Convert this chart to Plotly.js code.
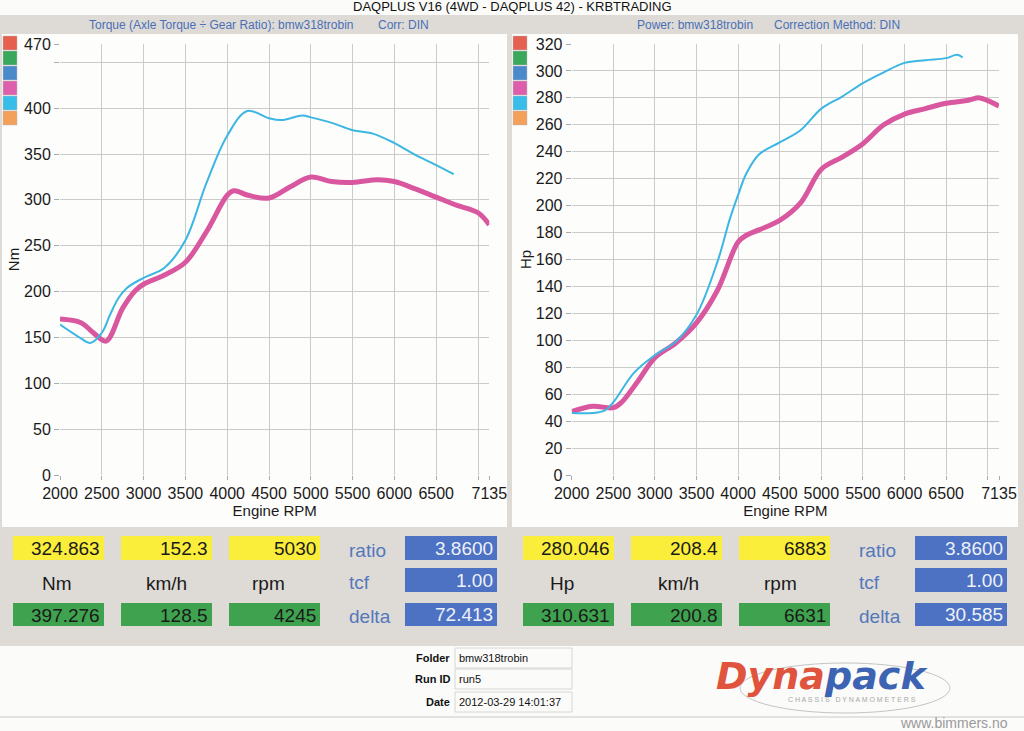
<!DOCTYPE html>
<html>
<head>
<meta charset="utf-8">
<script src="https://cdn.plot.ly/plotly-3.0.1.min.js"></script>
<style>
  html, body { margin: 0; padding: 0; background: #dedbd7; }
  #chart { width: 1024px; height: 731px; }
</style>
</head>
<body>
<div id="chart"></div>
<script>
// page is 1024x731, helpers turn pixel positions into paper coords
const W = 1024, H = 731;
const X = p => p / W;
const Y = p => 1 - p / H;

// torque curves (Nm) - pink is the current run, cyan the compare run
const torqueRpmPink = [2000, 2250, 2400, 2550, 2750, 2900, 3000, 3250, 3500, 3750, 4000, 4080, 4250, 4500, 4750, 5000, 5250, 5500, 5800, 6000, 6250, 6500, 6750, 7000, 7135];
const torquePink    = [170, 166, 155, 146, 182, 201, 208, 218, 232, 265, 305, 310, 305, 302, 314, 325, 320, 319, 322, 320, 312, 303, 294, 286, 273];
const torqueRpmCyan = [2000, 2250, 2360, 2500, 2600, 2700, 2800, 3000, 3250, 3500, 3750, 4000, 4240, 4500, 4650, 4900, 5000, 5250, 5500, 5750, 6000, 6250, 6500, 6710];
const torqueCyan    = [164, 149, 144, 155, 175, 193, 204, 215, 226, 256, 318, 370, 397, 389, 387, 392, 390, 384, 376, 372, 362, 349, 338, 328];

// power curves (Hp)
const powerRpmPink = [2000, 2250, 2500, 2600, 2800, 3000, 3250, 3500, 3750, 4000, 4100, 4250, 4500, 4750, 5000, 5250, 5500, 5750, 6000, 6250, 6500, 6750, 6900, 7000, 7135];
const powerPink    = [47, 51, 50, 54, 70, 87, 98, 113, 137, 173, 178, 182, 189, 202, 227, 236, 246, 260, 268, 272, 276, 278, 280, 278, 274];
const powerRpmCyan = [2000, 2250, 2400, 2500, 2750, 3000, 3250, 3500, 3750, 3900, 4000, 4100, 4250, 4500, 4750, 5000, 5250, 5500, 5750, 6000, 6250, 6500, 6630, 6700];
const powerCyan    = [46, 46, 48, 54, 76, 89, 99, 119, 158, 190, 208, 224, 238, 247, 256, 272, 281, 291, 299, 306, 308, 309.5, 312, 310];

// ticks
const rpmTicks  = [2000, 2500, 3000, 3500, 4000, 4500, 5000, 5500, 6000, 6500, 7000, 7135];
const rpmLabels = ['2000', '2500', '3000', '3500', '4000', '4500', '5000', '5500', '6000', '6500', '', '7135'];
const nmTicks   = [0, 50, 100, 150, 200, 250, 300, 350, 400, 450, 470];
const nmLabels  = ['0', '50', '100', '150', '200', '250', '300', '350', '400', '', '470'];

// legend swatches
const swatchColors = ['#e5604e', '#3aa85a', '#4a8acb', '#dd5fab', '#38bce8', '#f3a05a'];

// readout panel values
const torqueTop    = ['324.863', '152.3', '5030'];
const torqueBottom = ['397.276', '128.5', '4245'];
const torqueUnits  = ['Nm', 'km/h', 'rpm'];
const torqueParams = ['3.8600', '1.00', '72.413'];
const powerTop     = ['280.046', '208.4', '6883'];
const powerBottom  = ['310.631', '200.8', '6631'];
const powerUnits   = ['Hp', 'km/h', 'rpm'];
const powerParams  = ['3.8600', '1.00', '30.585'];
const paramNames   = ['ratio', 'tcf', 'delta'];

const footerLabels = ['Folder', 'Run ID', 'Date'];
const footerValues = ['bmw318trobin', 'run5', '2012-03-29 14:01:37'];

const PINK = '#d9579f', CYAN = '#3cb6e2';
const FONT = 'Liberation Sans, Arial, sans-serif';

const traces = [
  { x: torqueRpmPink, y: torquePink, xaxis: 'x', yaxis: 'y', mode: 'lines',
    line: { color: PINK, width: 5, shape: 'spline', smoothing: 1 } },
  { x: torqueRpmCyan, y: torqueCyan, xaxis: 'x', yaxis: 'y', mode: 'lines',
    line: { color: CYAN, width: 2, shape: 'spline', smoothing: 1 } },
  { x: powerRpmPink, y: powerPink, xaxis: 'x2', yaxis: 'y2', mode: 'lines',
    line: { color: PINK, width: 5, shape: 'spline', smoothing: 1 } },
  { x: powerRpmCyan, y: powerCyan, xaxis: 'x2', yaxis: 'y2', mode: 'lines',
    line: { color: CYAN, width: 2, shape: 'spline', smoothing: 1 } }
];

function rpmAxis(x0, x1, anchor) {
  return {
    domain: [X(x0), X(x1)], range: [2000, 7135], anchor: anchor,
    tickvals: rpmTicks, ticktext: rpmLabels,
    showgrid: true, gridcolor: '#cbcbcb', gridwidth: 1,
    ticks: 'outside', ticklen: 4, tickcolor: '#aaa',
    zeroline: false, showline: false,
    tickfont: { family: FONT, size: 16, color: '#1a1a1a' },
    title: { text: 'Engine RPM', font: { family: FONT, size: 15, color: '#1a1a1a' }, standoff: 2 }
  };
}

function valueAxis(range, anchor, name) {
  return {
    domain: [Y(475), Y(44)], range: range, anchor: anchor,
    showgrid: true, gridcolor: '#cbcbcb', gridwidth: 1,
    ticks: 'outside', ticklen: 5, tickcolor: '#aaa',
    zeroline: false, showline: false,
    tickfont: { family: FONT, size: 16, color: '#1a1a1a' },
    title: { text: name, font: { family: FONT, size: 15, color: '#1a1a1a' }, standoff: 0 }
  };
}

const shapes = [];
const annotations = [];

function rect(x0, y0, x1, y1, fill, line) {
  shapes.push({ type: 'rect', xref: 'paper', yref: 'paper', layer: 'below',
    x0: X(x0), x1: X(x1), y0: Y(y1), y1: Y(y0),
    fillcolor: fill, line: line || { width: 0 } });
}

function text(str, x, y, size, color, anchor, extra) {
  annotations.push(Object.assign({ text: str, xref: 'paper', yref: 'paper',
    x: X(x), y: Y(y), xanchor: anchor || 'center', yanchor: 'middle', showarrow: false,
    font: { family: FONT, size: size, color: color } }, extra || {}));
}

// backgrounds
rect(0, 0, 1024, 15, '#fbfbfa');
rect(2, 34, 507, 527, '#fdfdfc');
rect(512, 34, 1018, 527, '#fdfdfc');
rect(0, 646, 1024, 731, '#fbfbfa');
shapes.push({ type: 'line', xref: 'paper', yref: 'paper', x0: 0, x1: 1, y0: Y(717), y1: Y(717),
  line: { color: '#c9c9c9', width: 1 } });

// swatches beside each chart
swatchColors.forEach((c, i) => {
  rect(3, 36 + i * 15, 17, 50 + i * 15, c, { color: '#bbb', width: 0.5 });
  rect(513, 36 + i * 15, 527, 50 + i * 15, c, { color: '#bbb', width: 0.5 });
});

// titles
text('DAQPLUS V16 (4WD - DAQPLUS 42) - KRBTRADING', 512, 7, 13, '#111');
text('Torque (Axle Torque \u00f7 Gear Ratio): bmw318trobin', 87, 25, 12, '#4a6fb5', 'left');
text('Corr: DIN', 376, 25, 12, '#4a6fb5', 'left');
text('Power: bmw318trobin', 635, 25, 12, '#4a6fb5', 'left');
text('Correction Method: DIN', 772, 25, 12, '#4a6fb5', 'left');

// readout panels
const boxX = [13, 121, 229];
function readout(off, top, bottom, units, unitX, params) {
  boxX.forEach((bx, i) => {
    rect(bx + off, 536, bx + off + 91, 560, '#fbee3a');
    rect(bx + off, 603, bx + off + 91, 626, '#3ea24f');
    text(top[i], bx + off + 89, 548, 19, '#1a1a1a', 'right');
    text(bottom[i], bx + off + 89, 615, 19, '#1a1a1a', 'right');
    text(units[i], unitX[i], 583, 19, '#1a1a1a');
  });
  const rowY = [[536, 560], [568, 592], [603, 626]];
  params.forEach((v, i) => {
    rect(405 + off, rowY[i][0], 497 + off, rowY[i][1], '#4d72c4');
    text(v, 495 + off, (rowY[i][0] + rowY[i][1]) / 2, 19, '#eef1f8', 'right');
    text(paramNames[i], 347 + off, (rowY[i][0] + rowY[i][1]) / 2 + 2, 19, '#5577bb', 'left');
  });
}
readout(0, torqueTop, torqueBottom, torqueUnits, [57, 166, 268], torqueParams);
readout(510, powerTop, powerBottom, powerUnits, [562, 678, 780], powerParams);

// footer info
const footY = [658, 679, 702];
footerLabels.forEach((lab, i) => {
  text('<b>' + lab + '</b>', 452, footY[i], 11, '#111', 'right');
  text(footerValues[i], 457, footY[i], 11, '#111', 'left');
  rect(455, footY[i] - 10, 572, footY[i] + 10, 'rgba(0,0,0,0)', { color: '#d6d6d6', width: 1 });
});

// logo
shapes.push({ type: 'circle', xref: 'paper', yref: 'paper', layer: 'below',
  x0: X(740), x1: X(950), y0: Y(713), y1: Y(663), line: { color: '#c4c4c4', width: 1 } });
text('<b><i><span style="color:#e0533d">Dyna</span><span style="color:#3d63b3">pack</span></i></b>',
  822, 676, 38, '#e0533d', 'center', { font: { family: 'DejaVu Sans', size: 38, color: '#e0533d' } });
text('C H A S S I S &nbsp; D Y N A M O M E T E R S', 852, 699, 7, '#a8a8a8');
text('www.bimmers.no', 1010, 723, 14, '#9a9a9a', 'right');

const layout = {
  width: W, height: H,
  margin: { l: 0, r: 0, t: 0, b: 0 },
  paper_bgcolor: '#dedbd7',
  plot_bgcolor: 'rgba(0,0,0,0)',
  showlegend: false,
  xaxis: rpmAxis(60, 489.3, 'y'),
  yaxis: Object.assign(valueAxis([0, 470], 'x', 'Nm'), { tickvals: nmTicks, ticktext: nmLabels }),
  xaxis2: rpmAxis(571.7, 999, 'y2'),
  yaxis2: Object.assign(valueAxis([0, 320], 'x2', 'Hp'), { tickmode: 'linear', tick0: 0, dtick: 20 }),
  shapes: shapes,
  annotations: annotations
};

Plotly.newPlot('chart', traces, layout, { staticPlot: true, displayModeBar: false });
</script>
</body>
</html>
